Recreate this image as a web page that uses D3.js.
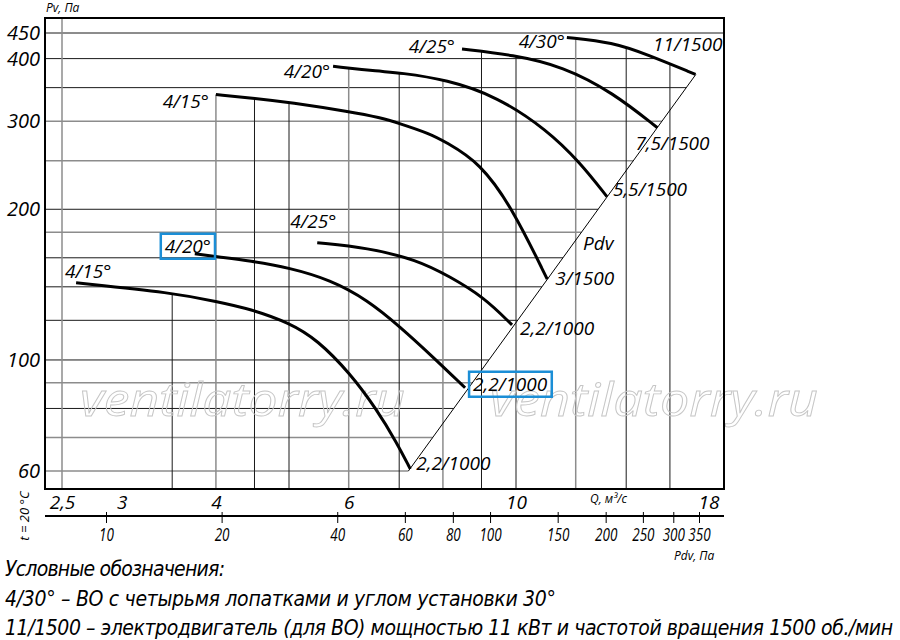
<!DOCTYPE html>
<html>
<head>
<meta charset="utf-8">
<script src="https://cdn.jsdelivr.net/npm/d3@7"></script>
<style>
body { margin: 0; background: #fff; }
svg { display: block; }
text { font-family: "Open Sans", "DejaVu Sans", sans-serif; font-style: italic; fill: #000; }
.legend { font-family: "Liberation Sans Narrow", "DejaVu Sans Condensed", sans-serif; }
</style>
</head>
<body>
<svg id="chart" width="900" height="640"></svg>
<script>
// --- values ---
const pvTicks = [60, 100, 200, 300, 400, 450];
const pvGrid = [60, 70, 80, 90, 100, 120, 140, 160, 180, 200, 250, 300, 350, 400, 450];
const pvGridGray = [60, 70, 90, 180, 250, 300];
const qTicks = [2.5, 3, 4, 6, 10, 18];
const qGrid = [2.5, 3.5, 4, 4.5, 5, 6, 7, 8, 9, 10, 12, 14, 16];
const qGridGray = [2.5, 4, 6, 8, 12];
const pdvTicks = [10, 20, 40, 60, 80, 100, 150, 200, 250, 300, 350];

// [Q m3/s, Pv Pa] — 1500 rpm
const pv15_1500 = [[4.0, 339], [4.52, 333], [5.01, 327], [6.04, 313], [6.60, 305], [7.00, 297], [7.69, 283], [8.05, 273], [8.96, 248], [9.91, 200], [11.0, 145]];
const pv20_1500 = [[5.72, 386], [6.60, 377], [7.00, 375], [8.10, 363], [9.44, 336], [11.0, 288], [12.16, 248], [13.2, 212]];
const pv25_1500 = [[8.48, 418], [9.91, 407], [11.54, 386], [13.45, 342], [15.4, 291]];
const pv30_1500 = [[11.68, 441], [13.45, 431], [14.9, 408], [17.3, 372]];
// 1000 rpm
const pv15_1000 = [[2.61, 142.6], [3.51, 136.2], [4.02, 130.7], [4.44, 126.5], [5.01, 118.6], [5.45, 109.7], [6.02, 94.2], [6.54, 79.5], [6.95, 68.3], [7.24, 60.6]];
const pv20_1000 = [[3.75, 163], [4.02, 160.7], [4.44, 157.8], [5.01, 152.8], [5.67, 144.6], [6.35, 131.9], [7.02, 116.5], [7.76, 101.4], [8.56, 88]];
const pv25_1000 = [[5.45, 171.5], [6.35, 167.6], [7.39, 158.5], [8.18, 146.6], [9.05, 133.7], [9.88, 117.5]];
const pdvLine = [[7.2, 60], [17.32, 372]];

const curveData = [pv15_1500, pv20_1500, pv25_1500, pv30_1500, pv15_1000, pv20_1000, pv25_1000];
const startLabels = ["4/15°", "4/20°", "4/25°", "4/30°", "4/15°", "4/20°", "4/25°"];
const endLabels = ["3/1500", "5,5/1500", "7,5/1500", "11/1500", "2,2/1000", "2,2/1000", "2,2/1000"];

const legendLines = [
  "Условные обозначения:",
  "4/30° – ВО с четырьмя лопатками и углом установки 30°",
  "11/1500 – электродвигатель (для ВО) мощностью 11 кВт и частотой вращения 1500 об./мин"
];

// --- layout ---
const L = 45, R = 724, T = 18, B = 489;
// label placement relative to curve start / end, [dx, dy, anchor, boxed]
const startPos = [[-7, 13, "end"], [-3, 12, "end"], [-7, 4, "end"], [-2, 11, "end"],
                  [-11, -5, "start"], [-30, -1, "start", true], [-27, -15, "start"]];
const endPos = [[8, 6, "start"], [6, -1, "start"], [-22, 22, "start"], [27, -23, "end"],
                [6, 1, "start"], [8, 3, "start", true], [8, 10, "start"]];

const svg = d3.select("#chart");
const x = d3.scaleLog().domain([2.5, 10]).range([62, 516]);
const y = d3.scaleLog().domain([60, 450]).range([471, 33]);
const xPdv = d3.scaleLog().domain([10, 350]).range([106, 699]);
const fmt = d => String(d).replace(".", ",");

const gridG = svg.append("g");
const curveG = svg.append("g");

const line = d3.line().x(d => x(d[0])).y(d => y(d[1])).curve(d3.curveBasis);

const curvePaths = curveG.selectAll("path.curve").data(curveData).enter().append("path")
  .attr("class", "curve")
  .attr("d", line)
  .attr("fill", "none").attr("stroke", "#000").attr("stroke-width", 3);

const diag = curveG.append("path")
  .attr("d", d3.line().x(d => x(d[0])).y(d => y(d[1]))(pdvLine))
  .attr("fill", "none").attr("stroke", "#000").attr("stroke-width", 1);

function sample(node) {
  const len = node.getTotalLength();
  const pts = [];
  for (let s = 0; s < len; s += 2) { const p = node.getPointAtLength(s); pts.push([p.x, p.y]); }
  const e = node.getPointAtLength(len); pts.push([e.x, e.y]);
  return pts;
}
const curvePts = curvePaths.nodes().map(sample);
const diagPts = sample(diag.node());

// horizontal grid: from left frame to the outer edge of the curves / Pdv line
function rightEnd(py) {
  let best = null;
  curvePts.concat([diagPts]).forEach(pts => {
    for (let i = 1; i < pts.length; i++) {
      const a = pts[i - 1], b = pts[i];
      if ((py - a[1]) * (py - b[1]) <= 0 && a[1] !== b[1]) {
        const cx = a[0] + (py - a[1]) / (b[1] - a[1]) * (b[0] - a[0]);
        if (best === null || cx > best) best = cx;
      }
    }
  });
  return best === null ? R : best;
}
// vertical grid: from the bottom up to the highest curve
function topEnd(px) {
  let best = null;
  curvePts.forEach(pts => {
    const x0 = pts[0][0], x1 = pts[pts.length - 1][0];
    if (px < x0 - 2 || px > x1 + 2) return;
    let cy;
    if (px <= x0) cy = pts[0][1];
    else if (px >= x1) cy = pts[pts.length - 1][1];
    else {
      for (let i = 1; i < pts.length; i++) {
        const a = pts[i - 1], b = pts[i];
        if (px >= a[0] && px <= b[0]) { cy = b[0] === a[0] ? a[1] : a[1] + (px - a[0]) / (b[0] - a[0]) * (b[1] - a[1]); break; }
      }
    }
    if (cy !== undefined && (best === null || cy < best)) best = cy;
  });
  return best === null ? T : best;
}

gridG.selectAll("line.h").data(pvGrid).enter().append("line")
  .attr("x1", L).attr("x2", d => rightEnd(y(d)))
  .attr("y1", d => y(d)).attr("y2", d => y(d))
  .attr("stroke", d => pvGridGray.includes(d) ? "#8c8c8c" : "#1a1a1a")
  .attr("stroke-width", d => pvGridGray.includes(d) ? 1.5 : 1);

gridG.selectAll("line.v").data(qGrid).enter().append("line")
  .attr("x1", d => x(d)).attr("x2", d => x(d))
  .attr("y1", B).attr("y2", d => topEnd(x(d)))
  .attr("stroke", d => qGridGray.includes(d) ? "#8c8c8c" : "#1a1a1a")
  .attr("stroke-width", d => qGridGray.includes(d) ? 1.5 : 1);

// watermark
[[80, 325], [490, 328]].forEach(p => {
  gridG.append("text").attr("x", p[0]).attr("y", 416)
    .attr("font-size", 46).attr("textLength", p[1]).attr("lengthAdjust", "spacingAndGlyphs")
    .style("fill", "none").attr("stroke", "#c6c6c6").attr("stroke-width", 0.9)
    .text("ventilatorry.ru");
});

// frame
svg.append("rect").attr("x", L).attr("y", T).attr("width", R - L).attr("height", B - T)
  .attr("fill", "none").attr("stroke", "#000").attr("stroke-width", 2);

// curve labels
const labelG = svg.append("g").attr("font-size", 19);
function addLabel(pt, pos, txt) {
  const t = labelG.append("text")
    .attr("x", x(pt[0]) + pos[0]).attr("y", y(pt[1]) + pos[1])
    .attr("text-anchor", pos[2]).text(txt);
  if (pos[3]) {
    const bb = t.node().getBBox();
    labelG.append("rect").attr("x", bb.x - 4).attr("y", bb.y + 1)
      .attr("width", bb.width + 8).attr("height", bb.height - 1)
      .attr("fill", "none").attr("stroke", "#1b8ed6").attr("stroke-width", 2.5);
  }
}
curveData.forEach((c, i) => {
  addLabel(c[0], startPos[i], startLabels[i]);
  addLabel(c[c.length - 1], endPos[i], endLabels[i]);
});
labelG.append("text").attr("x", 583).attr("y", 250).text("Pdv");

// Y axis
svg.append("g").attr("transform", `translate(${L},0)`)
  .call(d3.axisLeft(y).tickValues(pvTicks).tickSize(0).tickPadding(5).tickFormat(fmt))
  .call(g => g.select(".domain").remove())
  .attr("font-size", 20);
svg.append("text").attr("x", 46).attr("y", 12).attr("font-size", 12).text("Pv, Па");

// Q axis
svg.append("g").attr("transform", `translate(0,${B})`)
  .call(d3.axisBottom(x).tickValues(qTicks).tickSize(0).tickPadding(6).tickFormat(fmt))
  .call(g => g.select(".domain").remove())
  .attr("font-size", 19);
svg.append("text").attr("x", 590).attr("y", 503).attr("font-size", 12).text("Q, м³/с");

// Pdv axis
const pdvY = 516;
svg.append("line").attr("x1", L).attr("x2", R).attr("y1", pdvY).attr("y2", pdvY)
  .attr("stroke", "#000").attr("stroke-width", 2);
svg.append("g").attr("transform", `translate(0,${pdvY})`)
  .call(d3.axisBottom(xPdv).tickValues(pdvTicks).tickSizeInner(7).tickSizeOuter(0).tickPadding(5))
  .call(g => g.select(".domain").remove())
  .call(g => g.selectAll(".tick line").attr("y1", -4).attr("stroke-width", 1))
  .attr("font-size", 19)
  .call(g => g.selectAll(".tick text").each(function () {
    // squeeze the labels, as the narrow lettering in the original
    const w = this.getComputedTextLength();
    d3.select(this).attr("textLength", w * 0.71).attr("lengthAdjust", "spacingAndGlyphs");
  }));
svg.append("text").attr("x", 674).attr("y", 560).attr("font-size", 12).text("Pdv, Па");

svg.append("text").attr("transform", "translate(29,516) rotate(-90)")
  .attr("text-anchor", "middle").attr("font-size", 13).text("t = 20 °C");

// legend
const legendW = [220, 551, 888];
legendLines.forEach((s, i) => {
  svg.append("text").attr("class", "legend")
    .attr("x", 5).attr("y", 576 + i * 29.5).attr("font-size", 21)
    .attr("textLength", legendW[i]).attr("lengthAdjust", "spacing")
    .text(s);
});
</script>
</body>
</html>
